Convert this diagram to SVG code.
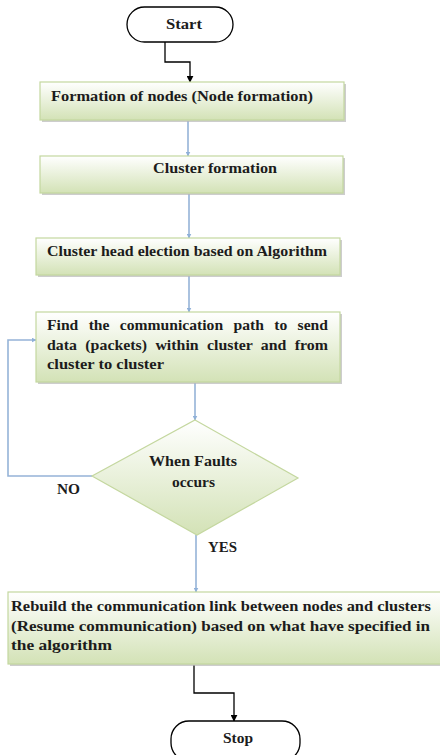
<svg xmlns="http://www.w3.org/2000/svg" width="440" height="755" viewBox="0 0 440 755">
<defs>
<linearGradient id="g" x1="0" y1="0" x2="0" y2="1">
<stop offset="0" stop-color="#ffffff"/>
<stop offset="1" stop-color="#d3e2b6"/>
</linearGradient>
<marker id="ab" viewBox="0 0 10 10" refX="9" refY="5" markerWidth="5" markerHeight="5" orient="auto" markerUnits="userSpaceOnUse">
<path d="M0,0 L10,5 L0,10 z" fill="#8fb0d8"/>
</marker>
<marker id="ak" viewBox="0 0 10 10" refX="9" refY="5" markerWidth="7" markerHeight="7" orient="auto" markerUnits="userSpaceOnUse">
<path d="M0,0 L10,5 L0,10 z" fill="#000"/>
</marker>
<style>
.box{fill:url(#g);stroke:#c4d79f;stroke-width:1.2}
.sh{fill:#b8b8b8;opacity:0.7}
.term{fill:#fff;stroke:#000;stroke-width:1.3}
.t{font-family:"Liberation Serif",serif;font-weight:bold;font-size:14.5px;fill:#1c1c1c}
.blue-a{fill:none;stroke:#95b3d7;stroke-width:1.6;marker-end:url(#ab)}
.black{fill:none;stroke:#000;stroke-width:1.3;marker-end:url(#ak)}
</style>
</defs>
<g id="connectors">
<path class="black" d="M165,42 V62 H190 V82"/>
<path class="blue-a" d="M188,121 V156"/>
<path class="blue-a" d="M189,194 V238"/>
<path class="blue-a" d="M189,276 V312"/>
<path class="blue-a" d="M195,383 V420"/>
<path class="blue-a" d="M92,476 H8 V340 H36"/>
<path class="blue-a" d="M196,535 V592"/>
<path class="black" d="M194,665 V693 H234 V721"/>
<text class="t" x="57" y="494" textLength="23" lengthAdjust="spacingAndGlyphs">NO</text>
<text class="t" x="208" y="552" textLength="29" lengthAdjust="spacingAndGlyphs">YES</text>
</g>
<g id="start">
<rect class="term" x="127" y="7" width="106" height="35" rx="17.5"/>
<text class="t" x="166" y="29" textLength="36" lengthAdjust="spacingAndGlyphs">Start</text>
</g>
<g id="n1">
<rect class="sh" x="42" y="84" width="304" height="38"/>
<rect class="box" x="40" y="82" width="304" height="38"/>
<text class="t" x="51" y="101" textLength="262" lengthAdjust="spacingAndGlyphs">Formation of nodes (Node formation)</text>
</g>
<g id="n2">
<rect class="sh" x="42" y="158" width="303" height="37"/>
<rect class="box" x="40" y="156" width="303" height="37"/>
<text class="t" x="153" y="173" textLength="124" lengthAdjust="spacingAndGlyphs">Cluster formation</text>
</g>
<g id="n3">
<rect class="sh" x="38" y="240" width="304" height="37"/>
<rect class="box" x="36" y="238" width="304" height="37"/>
<text class="t" x="47" y="256" textLength="280" lengthAdjust="spacingAndGlyphs">Cluster head election based on Algorithm</text>
</g>
<g id="n4">
<rect class="sh" x="38" y="314" width="304" height="70"/>
<rect class="box" x="36" y="312" width="304" height="70"/>
<text class="t" x="47" y="330" word-spacing="6" textLength="281" lengthAdjust="spacingAndGlyphs">Find the communication path to send</text>
<text class="t" x="47" y="350" word-spacing="4" textLength="281" lengthAdjust="spacingAndGlyphs">data (packets) within cluster and from</text>
<text class="t" x="47" y="369" textLength="117" lengthAdjust="spacingAndGlyphs">cluster to cluster</text>
</g>
<g id="decision">
<polygon points="195,420 298,478 197,535 92,476" fill="url(#g)" stroke="#c4d79f" stroke-width="1.2"/>
<text class="t" x="149" y="466" textLength="88" lengthAdjust="spacingAndGlyphs">When Faults</text>
<text class="t" x="172" y="487" textLength="43" lengthAdjust="spacingAndGlyphs">occurs</text>
</g>
<g id="n5">
<rect class="sh" x="10" y="594" width="432" height="72"/>
<rect class="box" x="8" y="592" width="440" height="72"/>
<text class="t" x="11" y="611" textLength="420" lengthAdjust="spacingAndGlyphs">Rebuild the communication link between nodes and clusters</text>
<text class="t" x="11" y="631" textLength="419" lengthAdjust="spacingAndGlyphs">(Resume communication) based on what have specified in</text>
<text class="t" x="11" y="650" textLength="101" lengthAdjust="spacingAndGlyphs">the algorithm</text>
</g>
<g id="stop">
<rect class="term" x="171" y="721" width="129" height="40" rx="18"/>
<text class="t" x="223" y="743" textLength="30" lengthAdjust="spacingAndGlyphs">Stop</text>
</g>
</svg>
